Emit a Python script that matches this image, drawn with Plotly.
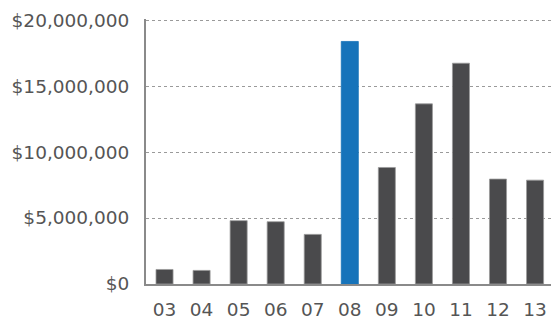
import plotly.graph_objects as go

# Annual totals by year (two-digit labels)
years = ["03", "04", "05", "06", "07", "08", "09", "10", "11", "12", "13"]
amounts = [1100000, 1030000, 4800000, 4720000, 3760000, 18380000,
           8830000, 13650000, 16730000, 7950000, 7870000]
highlight_year = "08"

y_ticks = [0, 5000000, 10000000, 15000000, 20000000]
y_tick_labels = ["$0", "$5,000,000", "$10,000,000", "$15,000,000", "$20,000,000"]

bar_colors = ["#1673ba" if y == highlight_year else "#4a4a4c" for y in years]
edge_colors = ["#1673ba" if y == highlight_year else "#9a9a9a" for y in years]

fig = go.Figure(
    go.Bar(
        x=years,
        y=amounts,
        marker=dict(color=bar_colors, line=dict(color=edge_colors, width=0.8)),
        width=0.46,
        hoverinfo="skip",
    )
)

fig.update_layout(
    width=551,
    height=320,
    margin=dict(l=146, r=0, t=19, b=29),
    paper_bgcolor="white",
    plot_bgcolor="white",
    showlegend=False,
    font=dict(family="DejaVu Sans", size=18.5, color="#555555"),
    xaxis=dict(
        type="category",
        range=[-0.5, 10.43],
        showgrid=False,
        showline=True,
        linecolor="#8a8a8a",
        linewidth=2,
        ticks="",
        ticklabelstandoff=8,
        tickfont=dict(size=18.5, color="#555555"),
        fixedrange=True,
    ),
    yaxis=dict(
        range=[0, 20080000],
        tickvals=y_ticks,
        ticktext=y_tick_labels,
        showgrid=True,
        gridcolor="#9a9a9a",
        griddash="dot",
        gridwidth=1,
        showline=True,
        linecolor="#8a8a8a",
        linewidth=2,
        zeroline=False,
        ticks="",
        ticklabelstandoff=11,
        tickfont=dict(size=18.5, color="#555555"),
        fixedrange=True,
    ),
)

fig.write_html("out.html")
